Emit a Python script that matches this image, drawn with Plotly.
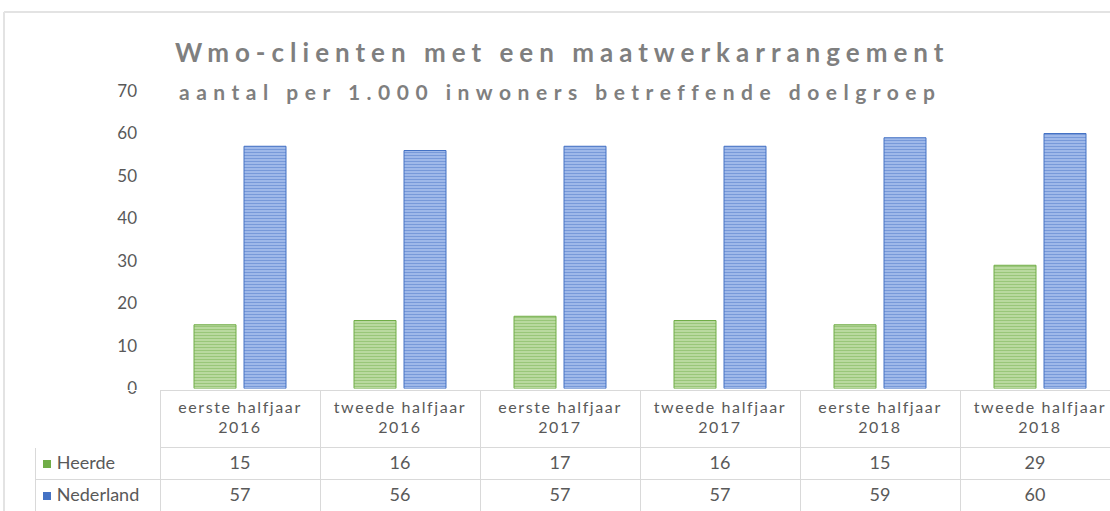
import plotly.graph_objects as go

# Data
categorieen = ['eerste halfjaar<br>2016', 'tweede halfjaar<br>2016', 'eerste halfjaar<br>2017',
               'tweede halfjaar<br>2017', 'eerste halfjaar<br>2018', 'tweede halfjaar<br>2018']
heerde = [15, 16, 17, 16, 15, 29]
nederland = [57, 56, 57, 57, 59, 60]
series = ['Heerde', 'Nederland']
y_ticks = [0, 10, 20, 30, 40, 50, 60, 70]

# Kleuren
groen = '#70ad47'
groen_licht = '#c3dfab'
blauw = '#4472c4'
blauw_licht = '#aac1ee'
grijs_tekst = '#595959'
grijs_lijn = '#d9d9d9'
fonts = 'Lato, Open Sans, sans-serif'

W, H = 1110, 511


def px_x(p):
    return p / W


def px_y(p):
    return (H - p) / H


def spatie(t, s):
    # extra letterafstand zoals in de Excel-grafiek
    return f'<span style="letter-spacing:{s}px">{t}</span>'


fig = go.Figure()

x_idx = list(range(len(categorieen)))

fig.add_trace(go.Bar(
    x=x_idx, y=heerde, name='Heerde',
    marker=dict(color=groen_licht, line=dict(color=groen, width=1),
                pattern=dict(shape='-', fgcolor=groen, bgcolor=groen_licht, size=3, solidity=0.5)),
    showlegend=False
))
fig.add_trace(go.Bar(
    x=x_idx, y=nederland, name='Nederland',
    marker=dict(color=blauw_licht, line=dict(color=blauw, width=1),
                pattern=dict(shape='-', fgcolor=blauw, bgcolor=blauw_licht, size=3, solidity=0.5)),
    showlegend=False
))

# Legendablokjes in de tabel (onder de doorzichtige eerste kolom)
fig.add_trace(go.Scatter(
    x=[0, 0], y=[0, 1], mode='markers',
    marker=dict(symbol='square', size=8, color=[groen, blauw]),
    xaxis='x2', yaxis='y2', hoverinfo='skip', showlegend=False
))

# Datatabel onder de grafiek (kopregel leeg: categorieën staan als x-as labels)
nb = '\u00a0' * 3
kolommen = [[nb + s for s in series]] + [[str(h), str(n)] for h, n in zip(heerde, nederland)]
breedtes = [125] + [160] * 5 + [150]

fig.add_trace(go.Table(
    domain=dict(x=[px_x(35), 1], y=[0, px_y(390)]),
    columnwidth=breedtes,
    header=dict(
        values=[''] * 7,
        height=57,
        fill=dict(color='rgba(0,0,0,0)'),
        line=dict(color=['white'] + [grijs_lijn] * 6, width=1)
    ),
    cells=dict(
        values=kolommen,
        align=['left'] + ['center'] * 6,
        height=32,
        font=dict(family=fonts, size=18, color=grijs_tekst),
        fill=dict(color=['rgba(0,0,0,0)'] + ['white'] * 6),
        line=dict(color=grijs_lijn, width=1)
    )
))

# Titel
fig.add_annotation(
    text=spatie('Wmo-clienten met een maatwerkarrangement', 6),
    xref='paper', yref='paper', x=px_x(562), y=px_y(52),
    showarrow=False, xanchor='center', yanchor='middle',
    font=dict(family=fonts, size=26, color='#7f7f7f', weight='bold')
)
fig.add_annotation(
    text=spatie('aantal per 1.000 inwoners betreffende doelgroep', 6.5),
    xref='paper', yref='paper', x=px_x(560), y=px_y(91),
    showarrow=False, xanchor='center', yanchor='middle',
    font=dict(family=fonts, size=21, color='#7f7f7f', weight='bold')
)

# Kader van de grafiek
fig.add_shape(type='line', xref='paper', yref='paper',
              x0=px_x(4), x1=1, y0=px_y(12), y1=px_y(12),
              line=dict(color='#e3e3e3', width=2))
fig.add_shape(type='line', xref='paper', yref='paper',
              x0=px_x(4), x1=px_x(4), y0=0, y1=px_y(12),
              line=dict(color='#e3e3e3', width=2))

fig.update_layout(
    width=W, height=H,
    margin=dict(l=0, r=0, t=0, b=0, pad=0, autoexpand=False),
    plot_bgcolor='rgba(0,0,0,0)',
    paper_bgcolor='white',
    barmode='group',
    bargap=0.375,
    bargroupgap=0.16,
    font=dict(family=fonts, color=grijs_tekst),
    xaxis=dict(
        domain=[px_x(160), 1],
        range=[-0.5, 5.4375],
        tickvals=x_idx,
        ticktext=[spatie(c, 1.6) for c in categorieen],
        tickfont=dict(family=fonts, size=16, color=grijs_tekst),
        ticklabelstandoff=7,
        automargin=False,
        showgrid=False,
        zeroline=False,
        showline=False,
        ticks=''
    ),
    yaxis=dict(
        domain=[px_y(388.5), px_y(91)],
        range=[0, 70],
        tickvals=y_ticks,
        automargin=False,
        showgrid=False,
        zeroline=False,
        showline=False,
        ticks='',
        ticklabelstandoff=22,
        tickfont=dict(family=fonts, size=17, color=grijs_tekst)
    ),
    xaxis2=dict(domain=[px_x(35), px_x(160)], range=[-12, 113], visible=False,
                fixedrange=True, anchor='y2'),
    yaxis2=dict(domain=[0, px_y(448)], range=[1.46875, -0.5], visible=False,
                fixedrange=True, anchor='x2'),
    showlegend=False
)

fig.write_html('out.html', config={'displayModeBar': False},
               post_script="document.body.style.margin='0';")
